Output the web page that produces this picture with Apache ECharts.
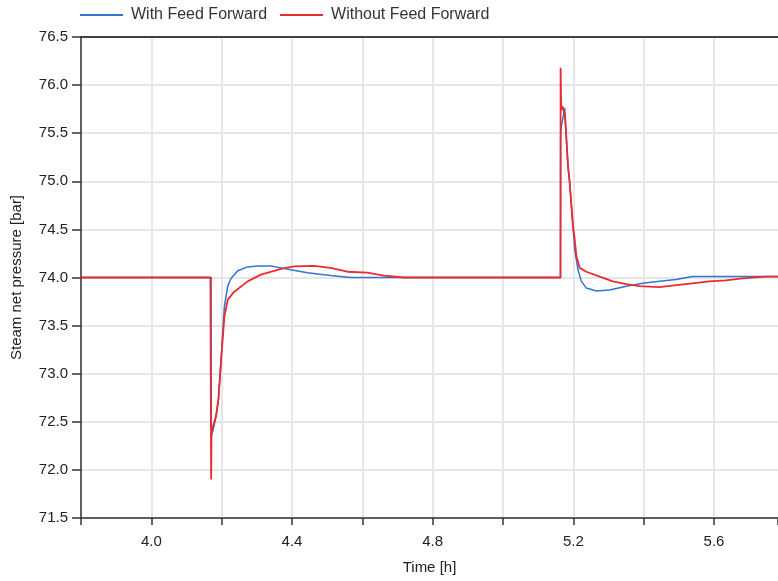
<!DOCTYPE html>
<html>
<head>
<meta charset="utf-8">
<script src="https://cdn.jsdelivr.net/npm/echarts@6/dist/echarts.min.js"></script>
<style>html,body{margin:0;padding:0;background:#fff;overflow:hidden}#c{width:778px;height:581px}</style>
</head>
<body>
<div id="c"></div>
<script>
var seriesNames = ['With Feed Forward', 'Without Feed Forward'];
var blueTime = [3.80, 4.170, 4.1705, 4.1748, 4.1841, 4.1907, 4.1983, 4.2077, 4.2173, 4.2266, 4.2456, 4.2739, 4.3023, 4.3400, 4.3683, 4.3966, 4.4439, 4.5099, 4.5666, 5.1635, 5.1640, 5.1663, 5.1757, 5.1805, 5.1850, 5.1898, 5.1946, 5.1992, 5.2040, 5.2133, 5.2229, 5.2371, 5.2654, 5.3031, 5.3505, 5.3975, 5.4448, 5.4921, 5.5391, 5.782];
var blueValue = [74.0, 74.0, 72.36, 72.40, 72.56, 72.73, 73.14, 73.70, 73.91, 73.99, 74.07, 74.11, 74.12, 74.12, 74.10, 74.08, 74.05, 74.02, 74.00, 74.0, 75.50, 75.58, 75.76, 75.43, 75.15, 74.98, 74.74, 74.53, 74.29, 74.08, 73.96, 73.89, 73.86, 73.87, 73.91, 73.94, 73.96, 73.98, 74.01, 74.01];
var redTime = [3.80, 4.168, 4.1695, 4.1700, 4.1712, 4.1748, 4.1841, 4.1907, 4.1983, 4.2077, 4.2173, 4.2351, 4.2739, 4.3116, 4.3493, 4.3683, 4.4060, 4.4626, 4.5099, 4.5572, 4.6139, 4.6609, 4.7176, 5.1635, 5.1638, 5.1655, 5.1691, 5.1757, 5.1805, 5.1850, 5.1898, 5.1946, 5.1992, 5.2040, 5.2088, 5.2181, 5.2371, 5.2748, 5.3125, 5.3505, 5.3881, 5.4448, 5.4921, 5.5391, 5.5864, 5.6337, 5.6808, 5.7471, 5.782];
var redValue = [74.0, 74.0, 73.99, 71.90, 72.40, 72.38, 72.56, 72.73, 73.14, 73.59, 73.77, 73.85, 73.96, 74.03, 74.07, 74.09, 74.115, 74.12, 74.10, 74.06, 74.05, 74.02, 74.0, 74.0, 76.18, 75.74, 75.78, 75.70, 75.43, 75.15, 74.98, 74.74, 74.53, 74.39, 74.22, 74.10, 74.06, 74.01, 73.96, 73.93, 73.91, 73.90, 73.92, 73.94, 73.96, 73.97, 73.99, 74.01, 74.01];
var yTicks = [71.5, 72.0, 72.5, 73.0, 73.5, 74.0, 74.5, 75.0, 75.5, 76.0, 76.5];
var xLabelTicks = [4.0, 4.4, 4.8, 5.2, 5.6];

function pairs(t, v) { return t.map(function (x, i) { return [x, v[i]]; }); }

var chart = echarts.init(document.getElementById('c'), null, {renderer: 'canvas'});
var font = 'Liberation Sans, Arial, sans-serif';
chart.setOption({
  animation: false,
  backgroundColor: '#fff',
  textStyle: {fontFamily: font},
  legend: {
    left: 74, top: 2,
    itemWidth: 43, itemHeight: 2, itemGap: 12,
    textStyle: {fontSize: 16, color: '#333', fontFamily: font, padding: [0, 0, 0, 3]},
    data: seriesNames
  },
  grid: {left: 81, right: 0, top: 37, bottom: 63, outerBoundsMode: 'none', containLabel: false},
  xAxis: [{
    type: 'value', min: 3.8, max: 5.782, interval: 0.2,
    name: 'Time [h]', nameLocation: 'middle', nameGap: 42,
    nameTextStyle: {fontSize: 15, color: '#222', fontFamily: font},
    axisLine: {show: true, onZero: false, lineStyle: {color: '#333', width: 1.5}},
    axisTick: {show: true, length: 7, lineStyle: {color: '#333', width: 1.5}},
    axisLabel: {
      fontSize: 15, color: '#222', margin: 16, fontFamily: font,
      formatter: function (v) {
        for (var i = 0; i < xLabelTicks.length; i++) {
          if (Math.abs(v - xLabelTicks[i]) < 1e-6) return xLabelTicks[i].toFixed(1);
        }
        return '';
      }
    },
    splitLine: {show: true, showMaxLine: false, lineStyle: {color: '#e6e6e6', width: 2}}
  }, {
    type: 'value', position: 'top', min: 3.8, max: 5.782,
    axisLine: {show: true, onZero: false, lineStyle: {color: '#404040', width: 2}},
    axisTick: {show: false}, axisLabel: {show: false}, splitLine: {show: false}
  }],
  yAxis: {
    type: 'value', min: yTicks[0], max: yTicks[yTicks.length - 1], interval: 0.5,
    name: 'Steam net pressure [bar]', nameLocation: 'middle', nameGap: 57, nameRotate: 90,
    nameTextStyle: {fontSize: 15, color: '#222', fontFamily: font},
    axisLine: {show: true, onZero: false, lineStyle: {color: '#333', width: 1.5}},
    axisTick: {show: true, length: 9, lineStyle: {color: '#333', width: 1.5}},
    axisLabel: {fontSize: 15, color: '#222', margin: 13, fontFamily: font,
      formatter: function (v) { return v.toFixed(1); }},
    splitLine: {show: true, lineStyle: {color: '#e6e6e6', width: 2}}
  },
  series: [{
    name: seriesNames[0], type: 'line', xAxisIndex: 0, symbol: 'none',
    data: pairs(blueTime, blueValue),
    lineStyle: {color: '#3274d2', width: 1.5}, itemStyle: {color: '#3274d2'}
  }, {
    name: seriesNames[1], type: 'line', xAxisIndex: 0, symbol: 'none',
    data: pairs(redTime, redValue),
    lineStyle: {color: '#ec2a30', width: 1.8}, itemStyle: {color: '#ec2a30'}
  }]
});
</script>
</body>
</html>
